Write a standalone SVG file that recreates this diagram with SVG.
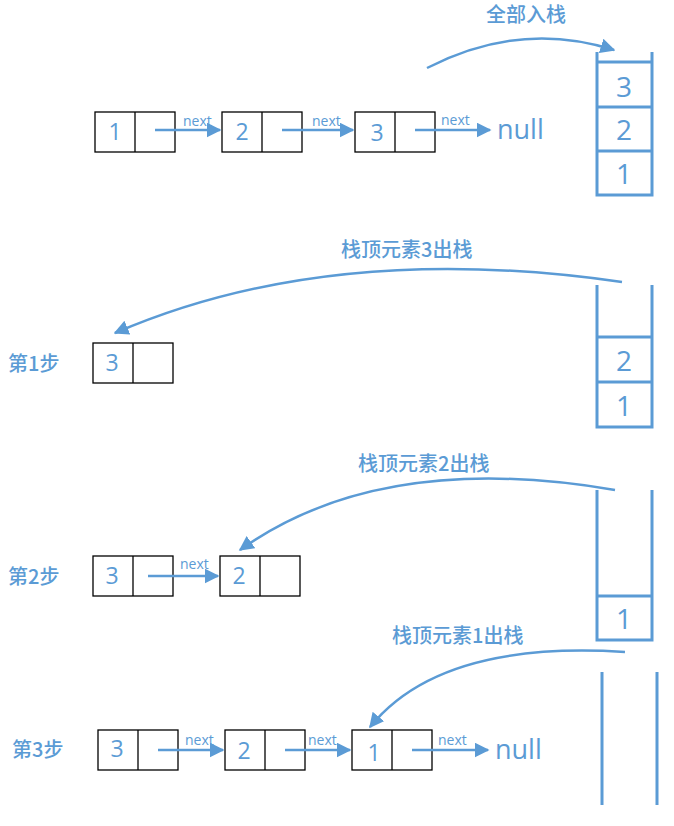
<svg xmlns="http://www.w3.org/2000/svg" width="674" height="826" viewBox="0 0 674 826">
<style>
.b{fill:#fff;stroke:#000;stroke-width:1.3}
.s{fill:none;stroke:#5b9bd5;stroke-width:3}
.a{fill:none;stroke:#5b9bd5;stroke-width:2.5}
.t{font-family:"Open Sans","Liberation Sans",sans-serif;fill:#5b9bd5}
.n{font-size:23px;text-anchor:middle}
.k{font-size:28px}
.x{font-size:14px}
.c{font-family:"Noto Sans CJK SC",sans-serif;fill:#5b9bd5;font-size:20px;font-weight:500}
</style>
<defs><marker id="m" viewBox="0 0 10 10" refX="9" refY="5" markerWidth="6" markerHeight="6" orient="auto"><path d="M0,0L10,5L0,10z" fill="#5b9bd5"/></marker></defs>
<g id="row1">
<rect class="b" x="95" y="112" width="80" height="40"/><line class="b" x1="135" y1="112" x2="135" y2="152"/><text class="t n" x="115" y="140">1</text>
<rect class="b" x="222" y="112" width="80" height="40"/><line class="b" x1="262" y1="112" x2="262" y2="152"/><text class="t n" x="242" y="140">2</text>
<rect class="b" x="355" y="112" width="80" height="40"/><line class="b" x1="395" y1="112" x2="395" y2="152"/><text class="t n" x="377" y="141">3</text>
<text class="t" x="497" y="139" font-size="27">null</text>
</g>
<g id="stack1">
<path class="s" d="M597,52V195H652V52M597,62H652M597,107H652M597,151H652"/>
<text class="t n k" x="624" y="97">3</text><text class="t n k" x="624" y="140">2</text><text class="t n k" x="624" y="184">1</text>
</g>
<g id="stack2">
<path class="s" d="M597,285V427H652V285M597,337H652M597,382H652"/>
<text class="t n k" x="624" y="371">2</text><text class="t n k" x="624" y="416">1</text>
</g>
<g id="step1">
<text class="c" x="8" y="371">第1步</text>
<rect class="b" x="93" y="343" width="80" height="40"/><line class="b" x1="133" y1="343" x2="133" y2="383"/><text class="t n" x="112" y="371">3</text>
</g>
<g id="stack3">
<path class="s" d="M597,490V640H652V490M597,596H652"/>
<text class="t n k" x="624" y="629">1</text>
</g>
<g id="step2">
<text class="c" x="8" y="584">第2步</text>
<rect class="b" x="93" y="556" width="80" height="40"/><line class="b" x1="133" y1="556" x2="133" y2="596"/><text class="t n" x="112" y="584">3</text>
<rect class="b" x="220" y="556" width="80" height="40"/><line class="b" x1="260" y1="556" x2="260" y2="596"/><text class="t n" x="239" y="584">2</text>
</g>
<g id="stack4">
<path class="s" d="M602,672V805M657,672V805"/>
</g>
<g id="step3">
<text class="c" x="12" y="757">第3步</text>
<rect class="b" x="98" y="730" width="80" height="40"/><line class="b" x1="138" y1="730" x2="138" y2="770"/><text class="t n" x="117" y="757">3</text>
<rect class="b" x="225" y="730" width="80" height="40"/><line class="b" x1="265" y1="730" x2="265" y2="770"/><text class="t n" x="244" y="759">2</text>
<rect class="b" x="352" y="730" width="80" height="40"/><line class="b" x1="392" y1="730" x2="392" y2="770"/><text class="t n" x="374" y="761">1</text>
<text class="t" x="495" y="759" font-size="27">null</text>
</g>
<g id="connectors">
<line class="a" x1="155" y1="130" x2="220" y2="130" marker-end="url(#m)"/><text class="t x" x="183" y="126">next</text>
<line class="a" x1="282" y1="130" x2="353" y2="130" marker-end="url(#m)"/><text class="t x" x="312" y="126">next</text>
<line class="a" x1="415" y1="130" x2="490" y2="130" marker-end="url(#m)"/><text class="t x" x="441" y="125">next</text>
<path class="a" d="M427,68Q520,20 614,50" marker-end="url(#m)"/><text class="c" x="486" y="22">全部入栈</text>
<path class="a" d="M622,282Q330,240 115,333" marker-end="url(#m)"/><text class="c" x="341" y="257">栈顶元素3出栈</text>
<line class="a" x1="148" y1="576" x2="218" y2="576" marker-end="url(#m)"/><text class="t x" x="180" y="569">next</text>
<path class="a" d="M615,490Q380,450 240,550" marker-end="url(#m)"/><text class="c" x="358" y="471">栈顶元素2出栈</text>
<path class="a" d="M625,652Q440,640 370,727" marker-end="url(#m)"/><text class="c" x="392" y="643">栈顶元素1出栈</text>
<line class="a" x1="158" y1="750" x2="223" y2="750" marker-end="url(#m)"/><text class="t x" x="185" y="745">next</text>
<line class="a" x1="285" y1="750" x2="350" y2="750" marker-end="url(#m)"/><text class="t x" x="308" y="745">next</text>
<line class="a" x1="412" y1="750" x2="488" y2="750" marker-end="url(#m)"/><text class="t x" x="438" y="745">next</text>
</g>
</svg>
